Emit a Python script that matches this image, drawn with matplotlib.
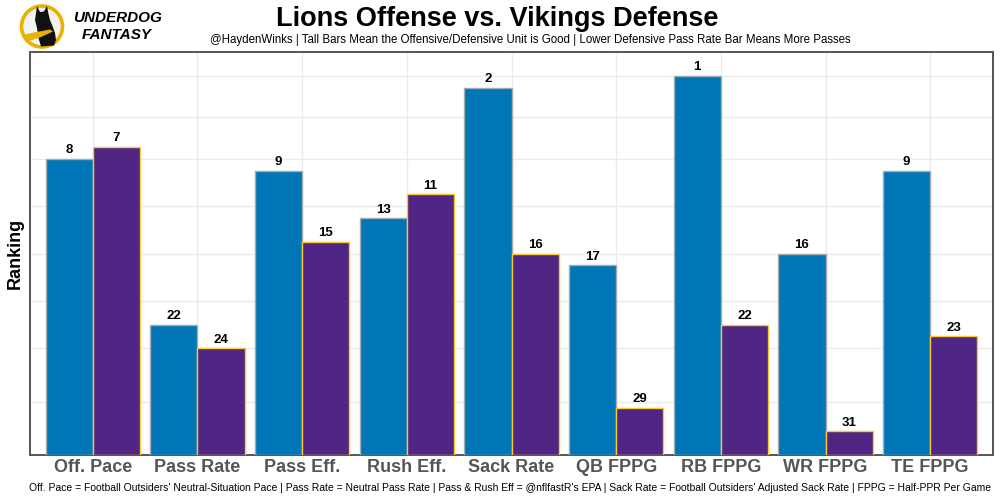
import matplotlib
matplotlib.use("Agg")
import matplotlib.pyplot as plt
from matplotlib.patches import Circle, Polygon
import numpy as np

categories = ['Off. Pace', 'Pass Rate', 'Pass Eff.', 'Rush Eff.', 'Sack Rate',
              'QB FPPG', 'RB FPPG', 'WR FPPG', 'TE FPPG']
lions_offense_rank = [8, 22, 9, 13, 2, 17, 1, 16, 9]
vikings_defense_rank = [7, 24, 15, 11, 16, 29, 22, 31, 23]
n_teams_plus = 33  # bar height = 33 - rank

title = "Lions Offense vs. Vikings Defense"
subtitle = ("@HaydenWinks | Tall Bars Mean the Offensive/Defensive Unit is Good | "
            "Lower Defensive Pass Rate Bar Means More Passes")
footer = ("Off. Pace = Football Outsiders' Neutral-Situation Pace | Pass Rate = Neutral Pass Rate | "
          "Pass & Rush Eff = @nflfastR's EPA | Sack Rate = Football Outsiders' Adjusted Sack Rate | "
          "FPPG = Half-PPR Per Game")

plt.rcParams['font.family'] = ['Liberation Sans', 'DejaVu Sans']

fig = plt.figure(figsize=(10, 5), dpi=100)
ax = fig.add_axes([0.030, 0.090, 0.963, 0.806])

x = np.arange(1, len(categories) + 1)
w = 0.45
off_h = [n_teams_plus - r for r in lions_offense_rank]
def_h = [n_teams_plus - r for r in vikings_defense_rank]

b1 = ax.bar(x - w / 2, off_h, width=w, color='#0076B6', edgecolor='#A5ACAF',
            linewidth=1.0, zorder=3)
b2 = ax.bar(x + w / 2, def_h, width=w, color='#4F2683', edgecolor='#FFC62F',
            linewidth=1.0, zorder=3)

for bars, ranks in ((b1, lions_offense_rank), (b2, vikings_defense_rank)):
    for bar, r in zip(bars, ranks):
        ax.text(bar.get_x() + bar.get_width() / 2, bar.get_height() + 0.2, str(r),
                ha='center', va='bottom', fontsize=9.5, fontweight='bold', color='black',
                zorder=4)

ax.set_xlim(0.4, len(categories) + 0.6)
ax.set_ylim(0, 34)
ax.set_yticks([4.5, 9, 13, 17, 21, 25, 28.5, 32])
ax.set_yticklabels([])
ax.set_xticks(x)
ax.set_xticklabels(categories, fontsize=13, fontweight='bold', color='#555555')
ax.tick_params(axis='both', length=0, pad=3)
ax.grid(True, color='#EBEBEB', linewidth=1.0, zorder=0)
ax.set_axisbelow(True)
for s in ax.spines.values():
    s.set_color('#555555')
    s.set_linewidth(1.4)
ax.set_ylabel('Ranking', fontsize=13, fontweight='bold', color='black')
ax.yaxis.set_label_coords(-0.007, 0.5)

fig.text(0.497, 0.962, title, ha='center', va='center', fontsize=19.5, fontweight='bold')
fig.text(0.53, 0.920, subtitle, ha='center', va='center', fontsize=8.3)
fig.text(0.51, 0.024, footer, ha='center', va='center', fontsize=7.45)

# logo (1 unit = 1 px; y measured up from 50 px below the top)
lax = fig.add_axes([0.0, 0.9, 0.085, 0.1])
lax.set_xlim(0, 85)
lax.set_ylim(0, 50)
lax.set_aspect('equal')
lax.axis('off')
cx, cy, r = 42, 23.5, 20.5
lax.add_patch(Circle((cx, cy), r, facecolor='#F2F2F2', edgecolor='#E8B100', linewidth=2.6))
dog_img = [(37, 6), (40, 12), (44, 11.5), (47, 6), (48.5, 14), (50, 20), (52.5, 26),
           (55, 33), (56, 40), (54, 45.5), (41, 46.5), (38.5, 38), (37, 28),
           (35, 20), (36, 13)]
lax.add_patch(Polygon([(px, 50 - py) for px, py in dog_img], closed=True,
                      facecolor='#111111', edgecolor='none'))
scarf_img = [(22.5, 35), (34, 32.5), (50, 29.5), (53, 31.5), (41, 37), (29, 41)]
lax.add_patch(Polygon([(px, 50 - py) for px, py in scarf_img], closed=True,
                      facecolor='#E8B100', edgecolor='none'))
fig.text(0.073, 0.963, 'UNDERDOG', ha='left', va='center', fontsize=11,
         fontweight='bold', style='italic', color='black')
fig.text(0.082, 0.930, 'FANTASY', ha='left', va='center', fontsize=11,
         fontweight='bold', style='italic', color='black')

fig.savefig('out.png', dpi=100, facecolor='white')
